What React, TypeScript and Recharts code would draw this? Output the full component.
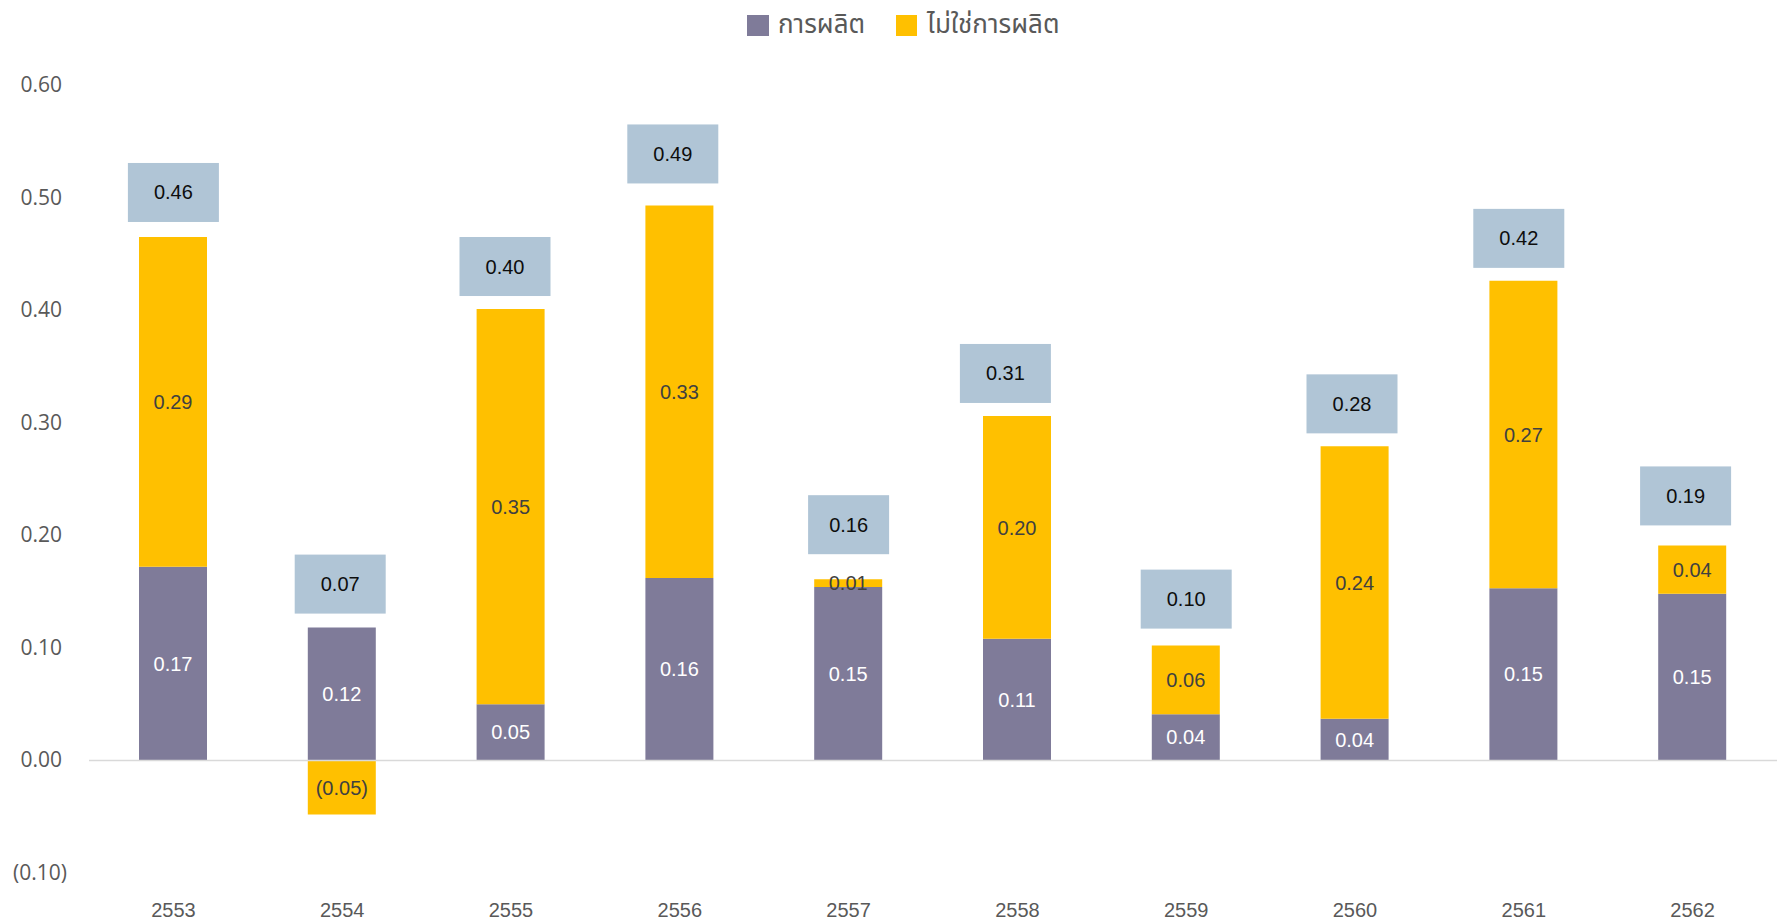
import React from 'react';
import { ComposedChart, Bar, Line, XAxis, YAxis, ReferenceLine, LabelList, Legend } from 'recharts';

const years = ['2553', '2554', '2555', '2556', '2557', '2558', '2559', '2560', '2561', '2562'];
const production = [0.172, 0.118, 0.05, 0.162, 0.154, 0.108, 0.041, 0.037, 0.153, 0.148];
const nonProduction = [0.293, -0.048, 0.351, 0.331, 0.007, 0.198, 0.061, 0.242, 0.273, 0.043];
const totals = [0.46, 0.07, 0.4, 0.49, 0.16, 0.31, 0.1, 0.28, 0.42, 0.19];
const yTicks = [-0.1, 0, 0.1, 0.2, 0.3, 0.4, 0.5, 0.6];

// the total boxes were placed by hand in the original: gap above bar, sideways nudge, width (px)
const boxGap = [15, 14, 13, 22, 25, 13, 17, 13, 13, 20];
const boxDx = [0, -2, -6, -7, 0, -12, 0, -3, -5, -7];
const boxW = [91, 91, 91, 91, 81, 91, 91, 91, 91, 91];

const PURPLE = '#7f7b99';
const YELLOW = '#ffc000';
const BOX = '#b0c5d6';
const GREY = '#595959';
const THAI = "Tahoma, 'Noto Sans Thai', 'Loma', 'Garuda', 'Noto Sans', sans-serif";
const ARIAL = "'Liberation Sans', Arial, sans-serif";

const fmt = (v: number) => (v < 0 ? `(${Math.abs(v).toFixed(2)})` : v.toFixed(2));

// top of the positive stack, used only to place the total box
const data = years.map((y, i) => ({
  year: y,
  prod: production[i],
  nonProd: nonProduction[i],
  top: production[i] + Math.max(nonProduction[i], 0),
}));

const YTick = (props: any) => {
  const { x, y, payload } = props;
  const v = payload.value;
  return (
    <text x={x} y={y} dx={v < 0 ? 0 : -5} dy={7} textAnchor="end" fill={GREY}
      style={{ fontFamily: "'Open Sans', sans-serif", fontSize: 21 }}>
      {fmt(v)}
    </text>
  );
};

const TotalBox = (props: any) => {
  const { x, y, index } = props;
  if (x == null || y == null) return null;
  const w = boxW[index], h = 59, gap = boxGap[index];
  const cx = x + boxDx[index];
  return (
    <g>
      <rect x={cx - w / 2} y={y - gap - h} width={w} height={h} fill={BOX} />
      <text x={cx} y={y - gap - h / 2} dy={7} textAnchor="middle" fill="#0d0d0d"
        style={{ fontFamily: ARIAL, fontSize: 20 }}>
        {totals[index].toFixed(2)}
      </text>
    </g>
  );
};

const LegendBox = () => (
  <div style={{ height: 40, display: 'flex', alignItems: 'center', paddingLeft: 747, fontFamily: THAI, fontSize: 26, color: GREY }}>
    <div style={{ width: 149, display: 'flex', alignItems: 'center' }}>
      <span style={{ width: 22, height: 21, background: PURPLE, marginRight: 9, display: 'inline-block' }} />
      การผลิต
    </div>
    <div style={{ display: 'flex', alignItems: 'center' }}>
      <span style={{ width: 21, height: 21, background: YELLOW, marginRight: 10, display: 'inline-block' }} />
      ไม่ใช่การผลิต
    </div>
  </div>
);

export default function App() {
  return (
    <div>
      <style>{'body{margin:0}'}</style>
      <ComposedChart width={1783} height={920} data={data} stackOffset="sign"
        margin={{ top: 45, right: 6, bottom: 0, left: 0 }}>
        <Legend verticalAlign="top" align="left" content={<LegendBox />}
          wrapperStyle={{ top: 5, left: 0, width: 1783 }} />
        <XAxis dataKey="year" axisLine={false} tickLine={false} tickSize={0} tickMargin={30} height={47}
          tick={{ fill: GREY, fontSize: 20, fontFamily: ARIAL }} />
        <YAxis domain={[-0.1, 0.6]} ticks={yTicks} width={89} axisLine={false} tickLine={false}
          tickSize={0} tickMargin={22} tick={<YTick />} interval={0} />
        <ReferenceLine y={0} stroke="#d9d9d9" strokeWidth={1.5} />
        <Bar dataKey="prod" stackId="a" fill={PURPLE} barSize={68} isAnimationActive={false}>
          <LabelList dataKey="prod" position="center" formatter={(v: any) => fmt(Number(v))}
            style={{ fill: '#ffffff', fontSize: 20, fontFamily: ARIAL }} />
        </Bar>
        <Bar dataKey="nonProd" stackId="a" fill={YELLOW} barSize={68} isAnimationActive={false}>
          <LabelList dataKey="nonProd" position="center" formatter={(v: any) => fmt(Number(v))}
            style={{ fill: '#404040', fontSize: 20, fontFamily: ARIAL }} />
        </Bar>
        <Line dataKey="top" stroke="none" dot={false} activeDot={false} legendType="none"
          isAnimationActive={false} label={<TotalBox />} />
      </ComposedChart>
    </div>
  );
}
